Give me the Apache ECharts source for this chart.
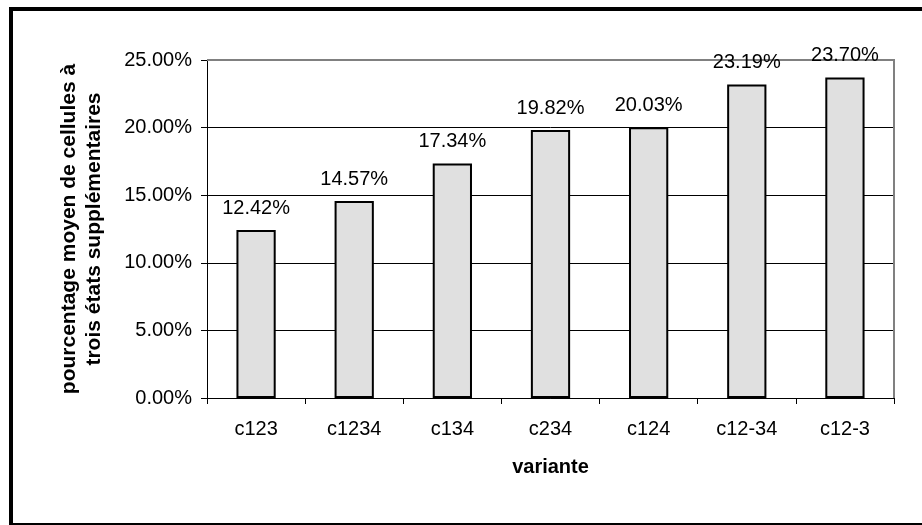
<!DOCTYPE html>
<html>
<head>
<meta charset="utf-8">
<script src="https://cdn.jsdelivr.net/npm/echarts@6/dist/echarts.min.js"></script>
<style>
    html, body {
        margin: 0;
        padding: 0;
        background: #fff;
    }
    #chart {
        width: 922px;
        height: 525px;
    }
</style>
</head>
<body>
<div id="chart"></div>
<script>
// values, in percent
const variantes = ["c123", "c1234", "c134", "c234", "c124", "c12-34", "c12-3"];
const pourcentages = [12.42, 14.57, 17.34, 19.82, 20.03, 23.19, 23.70];
const yMax = 25;
const yStep = 5;

const chart = echarts.init(document.getElementById("chart"));
const font = "'Liberation Sans', Arial, sans-serif";

chart.setOption({
    animation: false,
    textStyle: { fontFamily: font },
    graphic: [
        {
            // outer frame (right side falls off the picture)
            type: "rect",
            shape: { x: 11, y: 9, width: 914, height: 516 },
            style: { fill: "none", stroke: "#000", lineWidth: 4 },
            silent: true,
        },
        {
            // grey plot-area border (top and right), under the bar labels
            type: "polyline",
            shape: { points: [[207, 60], [894, 60], [894, 398]] },
            style: { fill: "none", stroke: "#808080", lineWidth: 2 },
            silent: true,
            z: 1,
        },
    ],
    grid: {
        left: 207,
        right: 28,
        top: 60,
        bottom: 127,
    },
    xAxis: {
        type: "category",
        data: variantes,
        name: "variante",
        nameLocation: "middle",
        nameGap: 59,
        nameTextStyle: { fontSize: 20, fontWeight: "bold", color: "#000" },
        axisLine: { lineStyle: { color: "#000", width: 1 } },
        axisTick: { show: true, length: 6, lineStyle: { color: "#000" } },
        axisLabel: { fontSize: 20, color: "#000", margin: 21 },
    },
    yAxis: {
        type: "value",
        min: 0,
        max: yMax,
        interval: yStep,
        name: "pourcentage moyen de cellules à\ntrois états supplémentaires",
        nameLocation: "middle",
        nameRotate: 90,
        nameGap: 100,
        nameTextStyle: {
            fontSize: 21,
            fontWeight: "bold",
            color: "#000",
            lineHeight: 25,
        },
        axisLine: { show: true, lineStyle: { color: "#000", width: 1 } },
        axisTick: { show: true, length: 6, lineStyle: { color: "#000" } },
        axisLabel: {
            fontSize: 20,
            color: "#000",
            margin: 15,
            formatter: (v) => v.toFixed(2) + "%",
        },
        splitLine: { lineStyle: { color: "#000", width: 1 } },
    },
    series: [
        {
            type: "bar",
            data: pourcentages,
            barWidth: "40%",
            z: 3,
            itemStyle: {
                color: "#e0e0e0",
                borderColor: "#000",
                borderWidth: 2,
            },
            label: {
                show: true,
                position: "top",
                distance: 12,
                fontSize: 20,
                color: "#000",
                textBorderWidth: 0,
                textBorderColor: "transparent",
                formatter: (p) => p.value.toFixed(2) + "%",
            },
        },
    ],
});
</script>
</body>
</html>
